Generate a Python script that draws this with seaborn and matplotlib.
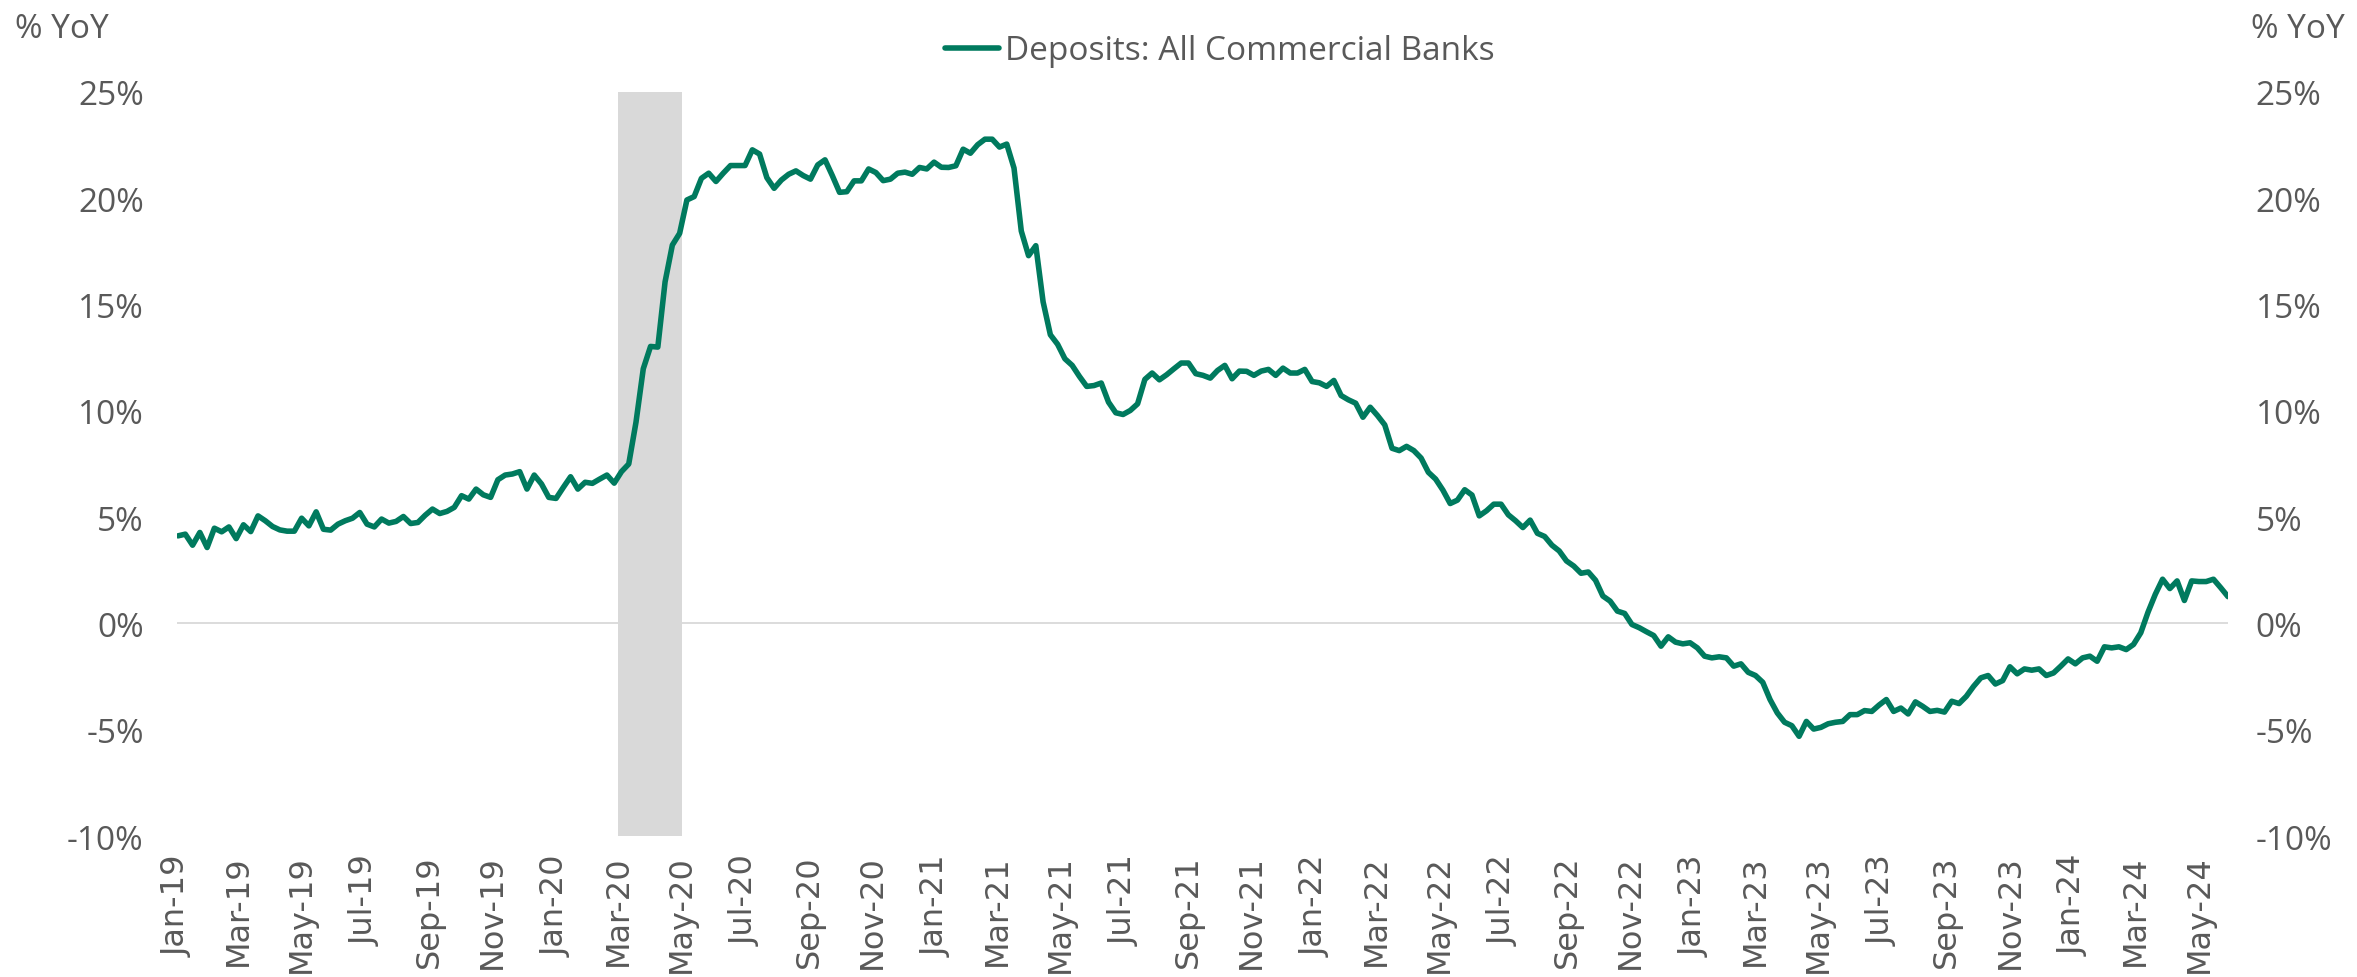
import matplotlib
matplotlib.use("Agg")
import matplotlib.pyplot as plt
import numpy as np
import pandas as pd
import seaborn as sns

GREEN = "#007A5E"
GREY_TEXT = "#595959"
LIGHT_GREY = "#D9D9D9"

SERIES_NAME = "Deposits: All Commercial Banks"
FIRST_WEEK = "2019-01-02"   # weekly (Wednesday) observations
RECESSION = ("2020-03-01", "2020-05-01")
Y_TICKS = [-10, -5, 0, 5, 10, 15, 20, 25]
X_TICK_START, X_TICK_END = "2019-01-01", "2024-05-01"   # every other month

# YoY % change, weekly
dep_2019 = [4.12, 4.20, 3.68, 4.28, 3.57, 4.48, 4.31, 4.54, 3.99, 4.64, 4.32, 5.06, 4.83,
            4.56, 4.40, 4.34, 4.34, 4.95, 4.59, 5.25, 4.43, 4.39, 4.67, 4.83, 4.95, 5.22,
            4.67, 4.54, 4.91, 4.72, 4.80, 5.03, 4.70, 4.75, 5.09, 5.38, 5.17, 5.27, 5.46,
            6.01, 5.85, 6.32, 6.05, 5.93, 6.76, 6.98, 7.03, 7.14, 6.32, 6.98, 6.56, 5.93]
dep_2020 = [5.88, 6.40, 6.90, 6.32, 6.64, 6.59, 6.79, 6.98, 6.60, 7.14, 7.50, 9.47, 11.98,
            13.03, 13.00, 16.07, 17.80, 18.35, 19.92, 20.08, 20.94, 21.18, 20.79, 21.18,
            21.54, 21.54, 21.54, 22.28, 22.08, 20.97, 20.47, 20.86, 21.13, 21.29, 21.07,
            20.90, 21.57, 21.81, 21.07, 20.28, 20.31, 20.82, 20.82, 21.38, 21.21, 20.83,
            20.90, 21.18, 21.23, 21.13, 21.45, 21.38, 21.70]
dep_2021 = [21.46, 21.45, 21.53, 22.31, 22.12, 22.52, 22.78, 22.78, 22.41, 22.55, 21.42,
            18.46, 17.30, 17.77, 15.13, 13.58, 13.13, 12.45, 12.14, 11.62, 11.15, 11.19,
            11.31, 10.41, 9.91, 9.83, 10.02, 10.33, 11.48, 11.78, 11.46, 11.70, 11.98,
            12.25, 12.25, 11.75, 11.67, 11.54, 11.90, 12.14, 11.51, 11.87, 11.86, 11.67,
            11.87, 11.95, 11.67, 12.01, 11.78, 11.78, 11.95, 11.38]
dep_2022 = [11.32, 11.15, 11.43, 10.72, 10.52, 10.36, 9.70, 10.17, 9.78, 9.34, 8.24, 8.13,
            8.33, 8.13, 7.78, 7.11, 6.79, 6.27, 5.64, 5.80, 6.29, 6.04, 5.06, 5.30, 5.61,
            5.61, 5.11, 4.83, 4.51, 4.86, 4.24, 4.09, 3.68, 3.41, 2.94, 2.70, 2.36, 2.42,
            2.03, 1.29, 1.05, 0.58, 0.47, -0.05, -0.20, -0.39, -0.57, -1.07, -0.63, -0.88,
            -0.96, -0.91]
dep_2023 = [-1.15, -1.54, -1.62, -1.57, -1.62, -2.01, -1.90, -2.30, -2.45, -2.77, -3.58,
            -4.21, -4.65, -4.81, -5.31, -4.61, -4.97, -4.89, -4.72, -4.65, -4.61, -4.29,
            -4.29, -4.10, -4.14, -3.84, -3.58, -4.14, -3.98, -4.26, -3.69, -3.90, -4.14,
            -4.09, -4.17, -3.66, -3.77, -3.43, -2.96, -2.56, -2.45, -2.85, -2.69, -2.04,
            -2.37, -2.14, -2.20, -2.14, -2.45, -2.33, -2.01, -1.67]
dep_2024 = [-1.90, -1.62, -1.54, -1.78, -1.10, -1.15, -1.10, -1.23, -0.99, -0.44, 0.53,
            1.37, 2.08, 1.64, 2.00, 1.08, 2.00, 1.97, 1.97, 2.08, 1.68, 1.26]

values = dep_2019 + dep_2020 + dep_2021 + dep_2022 + dep_2023 + dep_2024
df = pd.DataFrame({
    "date": pd.date_range(FIRST_WEEK, periods=len(values), freq="7D"),
    "yoy": values,
})
x_ticks = pd.date_range(X_TICK_START, X_TICK_END, freq="2MS")

sns.set_style("white")
plt.rcParams["font.family"] = ["Open Sans", "DejaVu Sans"]

W, H = 2357, 978
fig = plt.figure(figsize=(W / 100, H / 100), dpi=100)
ax = fig.add_axes([177 / W, 1 - 837 / H, (2228 - 177) / W, (837 - 93) / H])

ax.axvspan(pd.Timestamp(RECESSION[0]), pd.Timestamp(RECESSION[1]),
           color=LIGHT_GREY, lw=0, zorder=0)
ax.axhline(0, color=LIGHT_GREY, lw=1.3, zorder=1)
sns.lineplot(data=df, x="date", y="yoy", ax=ax, color=GREEN, lw=4,
             label=SERIES_NAME, legend=False, zorder=3)
ax.lines[-1].set_solid_capstyle("round")

ax.set_xlim(pd.Timestamp(X_TICK_START), df["date"].iloc[-1])
ax.set_ylim(-10, 25)
ax.set_xlabel("")
ax.set_ylabel("")
ax.set_yticks(Y_TICKS)
ax.set_yticklabels([f"{t}%" for t in Y_TICKS])
ax.set_xticks(x_ticks)
ax.set_xticklabels([d.strftime("%b-%y") for d in x_ticks], rotation=90,
                   fontfamily="DejaVu Sans", fontsize=23, color=GREY_TEXT)
ax.tick_params(axis="x", length=0, pad=13)
ax.tick_params(axis="y", length=0, pad=24, labelsize=24, labelcolor=GREY_TEXT)

ax2 = ax.twinx()
ax2.set_ylim(-10, 25)
ax2.set_yticks(Y_TICKS)
ax2.set_yticklabels([f"{t}%" for t in Y_TICKS])
ax2.tick_params(axis="y", length=0, pad=20, labelsize=24, labelcolor=GREY_TEXT)

for a in (ax, ax2):
    for s in a.spines.values():
        s.set_visible(False)

fig.text(15 / W, 1 - 30 / H, "% YoY", fontsize=24, color=GREY_TEXT,
         ha="left", va="center")
fig.text(2345 / W, 1 - 30 / H, "% YoY", fontsize=24, color=GREY_TEXT,
         ha="right", va="center")

handles, labels = ax.get_legend_handles_labels()
leg = fig.legend(handles, labels, loc="center", bbox_to_anchor=(1220 / W, 1 - 52 / H),
                 frameon=False, fontsize=24, handlelength=1.6, handletextpad=0.2,
                 labelcolor=GREY_TEXT)
for line in leg.get_lines():
    line.set_solid_capstyle("round")

fig.savefig("out.png", dpi=100)
